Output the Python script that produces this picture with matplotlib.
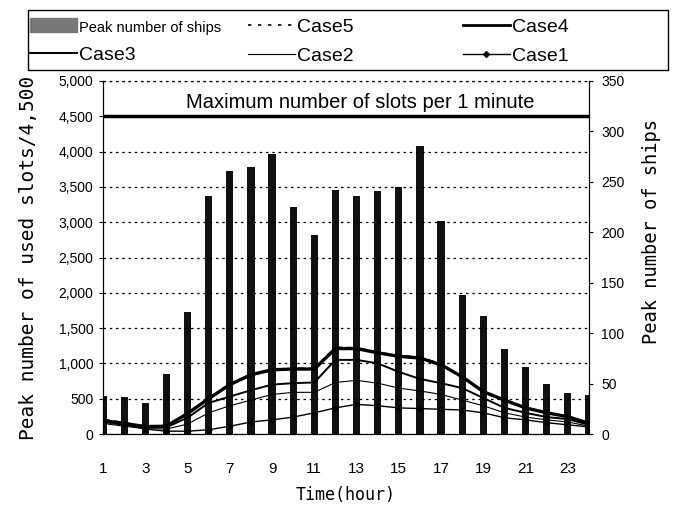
import numpy as np
import matplotlib.pyplot as plt
from matplotlib.patches import Patch, Rectangle
from matplotlib.lines import Line2D

# hours of the day
hours = np.arange(1, 25)

# peak number of ships (right axis)
ships = [38, 37, 31, 59, 121, 236, 261, 265, 278, 225, 197, 242,
         236, 241, 245, 286, 211, 138, 117, 84, 66, 50, 41, 39]

# peak number of used slots (left axis)
case5 = [210, 160, 110, 120, 300, 510, 690, 830, 900, 930, 930, 1230,
         1220, 1160, 1110, 1090, 990, 800, 590, 470, 360, 310, 250, 160]
case4 = [190, 150, 105, 110, 290, 500, 700, 840, 910, 920, 920, 1210,
         1210, 1150, 1100, 1076, 980, 810, 600, 480, 370, 300, 245, 150]
case3 = [170, 130, 95, 95, 230, 440, 530, 620, 700, 720, 730, 1050,
         1050, 1000, 880, 780, 720, 650, 510, 370, 300, 240, 210, 130]
case2 = [150, 110, 75, 70, 140, 300, 400, 480, 560, 590, 590, 730,
         760, 720, 650, 610, 560, 480, 400, 300, 240, 200, 170, 110]
case1 = [200, 140, 70, 40, 40, 60, 110, 170, 200, 240, 300, 370,
         420, 400, 370, 360, 350, 340, 300, 230, 200, 160, 130, 100]

max_slots = 4500

tickfont = 'Liberation Sans'
labelfont = 'DejaVu Sans Mono'

fig = plt.figure(figsize=(6.74, 5.07), dpi=100)
ax = fig.add_axes([103/674, 1-434/507, 486/674, 353/507])
ax2 = ax.twinx()

# bars on the right axis, drawn behind the lines
ax2.bar(hours, ships, width=0.34, color='#111111', zorder=1)
ax2.set_ylim(0, 350)
ax2.set_yticks(np.arange(0, 351, 50))
ax2.tick_params(axis='y', direction='out', length=3, pad=6, labelsize=10)
for t in ax2.get_yticklabels():
    t.set_family(tickfont)
ax2.set_ylabel('Peak number of ships', family=labelfont, fontsize=13.5)
ax2.yaxis.set_label_coords(1.109, 0.575)

ax.set_zorder(ax2.get_zorder() + 1)
ax.patch.set_visible(False)

ax.plot(hours, case5, color='black', lw=1.2, ls=(0, (4, 3)))
ax.plot(hours, case4, color='black', lw=2.4)
ax.plot(hours, case3, color='black', lw=1.4)
ax.plot(hours, case2, color='black', lw=0.8)
ax.plot(hours, case1, color='black', lw=1.0, marker='D', ms=2.5)

ax.axhline(max_slots, color='black', lw=2.5)
ax.text(13.16, 4700, 'Maximum number of slots per 1 minute', ha='center', va='center',
        family=tickfont, fontsize=14.5)

ax.set_xlim(1, 24)
ax.set_ylim(0, 5000)
ax.set_yticks(np.arange(0, 5001, 500))
ax.set_yticklabels(['0'] + [f'{v:,}' for v in range(500, 5001, 500)])
ax.set_xticks(np.arange(1, 24, 2))
ax.tick_params(axis='x', length=0, pad=20, labelsize=11)
ax.tick_params(axis='y', direction='out', length=3, pad=4, labelsize=10)
for t in ax.get_xticklabels() + ax.get_yticklabels():
    t.set_family(tickfont)

ax.grid(axis='y', color='black', ls=(0, (2, 3)), lw=0.9)
ax.spines['top'].set_visible(False)
ax2.spines['top'].set_visible(False)
ax.axhline(5000, color='black', ls=(0, (2, 3)), lw=0.9, clip_on=False)

ax.set_ylabel('Peak number of used slots/4,500', family=labelfont, fontsize=14)
ax.yaxis.set_label_coords(-0.134, 0.5)
ax.set_xlabel('Time(hour)', family=labelfont, fontsize=12, labelpad=7)

# legend: three columns of two rows inside one box
cols = [
    ([Patch(color='#777777'), Line2D([], [], color='black', lw=1.4)],
     ['Peak number of ships', 'Case3'], 30),
    ([Line2D([], [], color='black', lw=1.2, ls=(0, (2, 4))), Line2D([], [], color='black', lw=0.8)],
     ['Case5', 'Case2'], 248),
    ([Line2D([], [], color='black', lw=2.0), Line2D([], [], color='black', lw=1.0, marker='D', ms=3)],
     ['Case4', 'Case1'], 463),
]
for i, (h, lab, x0) in enumerate(cols):
    leg = fig.legend(h, lab, loc='upper left', bbox_to_anchor=(x0/674, 1-18/507),
                     frameon=False, handlelength=2.4, handletextpad=0.1,
                     borderaxespad=0, borderpad=0, labelspacing=0.6,
                     prop={'family': tickfont, 'size': 14})
    if i == 0:
        leg.get_texts()[0].set_fontsize(10.5)
fig.add_artist(Rectangle((28/674, 1-70/507), 640/674, 60/507, transform=fig.transFigure,
                         fill=False, edgecolor='black', lw=1.0))

fig.savefig('out.png', dpi=100)
